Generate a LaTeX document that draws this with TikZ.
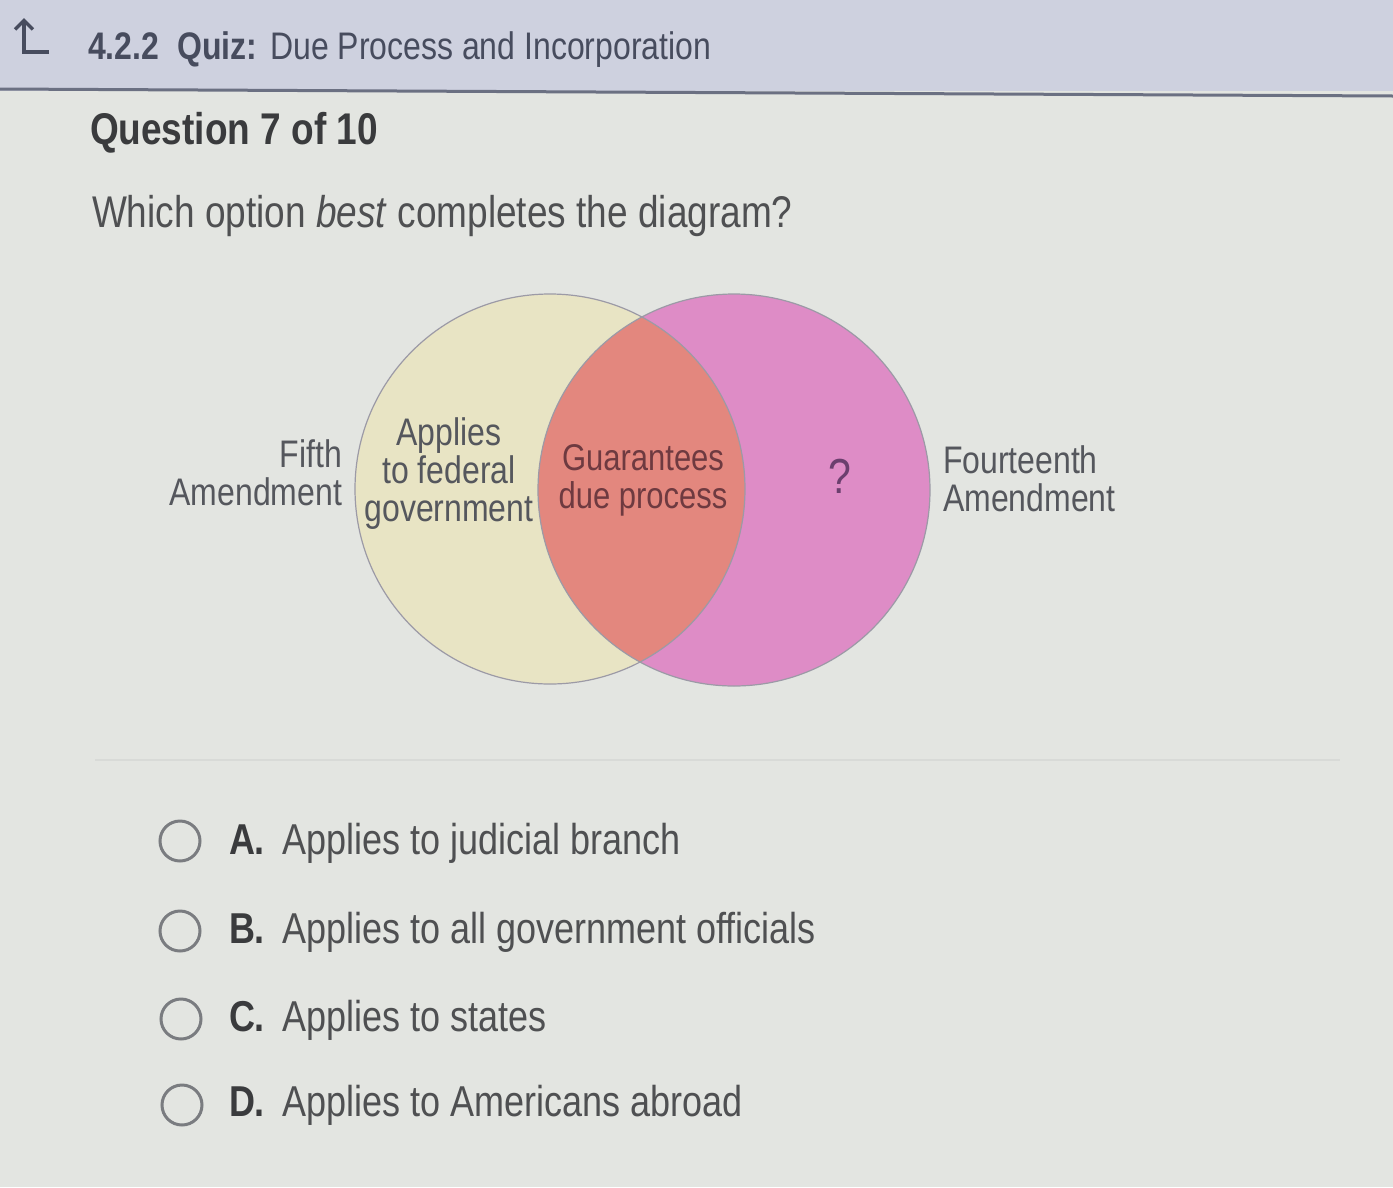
\documentclass[tikz,border=0pt]{standalone}
\usepackage{fontspec}
\setmainfont{Liberation Sans}
\usetikzlibrary{arrows.meta}
\definecolor{bgmain}{HTML}{E3E5E1}
\definecolor{bghead}{HTML}{CED1DF}
\definecolor{headline}{HTML}{6B7082}
\definecolor{headtxt}{HTML}{474C5E}
\definecolor{qtxt}{HTML}{3A3B3D}
\definecolor{bodytxt}{HTML}{4F5052}
\definecolor{lbltxt}{HTML}{55575D}
\definecolor{lfill}{HTML}{E8E4C4}
\definecolor{rfill}{HTML}{DE8CC6}
\definecolor{mfill}{HTML}{E3877E}
\definecolor{cline}{HTML}{9C9AA6}
\definecolor{midtxt}{HTML}{6E3A40}
\definecolor{qmark}{HTML}{6B3F6E}
\definecolor{radio}{HTML}{7A7C80}
\definecolor{sepline}{HTML}{D8DAD7}
\begin{document}
\begin{tikzpicture}[x=1pt,y=-1pt,
  txt/.style={inner sep=0pt, outer sep=0pt, yscale=1.2, transform shape},
  vlabel/.style={txt, text=lbltxt, font=\fontsize{32}{38}\selectfont},
  opt/.style={txt, text=bodytxt, font=\fontsize{36}{42}\selectfont, anchor=base west},
  optletter/.style={txt, text=qtxt, font=\fontsize{36}{42}\selectfont\bfseries, anchor=base west},
  radiobtn/.style={circle, draw=radio, line width=3pt, minimum size=40pt, inner sep=0pt}]
\useasboundingbox (0,0) rectangle (1393,1187);
% backgrounds
\fill[bgmain] (0,0) rectangle (1393,1187);
\fill[bghead] (0,0) rectangle (1393,91);
\draw[headline, line width=3pt] (0,89) -- (1393,96);
\draw[sepline, line width=1.5pt] (95,760) -- (1340,760);
% header
\coordinate (arrE) at (49,52);
\coordinate (arrC) at (24,52);
\coordinate (arrT) at (24,18);
\draw[headtxt, line width=3.5pt, -{Straight Barb[length=9pt,width=18pt,line width=3.5pt]}] (arrE) -- (arrC) -- (arrT);
\node[txt, anchor=base west, text=headtxt, font=\fontsize{32}{38}\selectfont] (head) at (88,59)
  {{\bfseries 4.2.2\hspace{18pt}Quiz:}\hspace{13pt}Due Process and Incorporation};
\node[txt, anchor=base west, text=qtxt, font=\fontsize{37}{44}\selectfont\bfseries] (qnum) at (90,144) {Question 7 of 10};
\node[txt, anchor=base west, text=bodytxt, font=\fontsize{37}{44}\selectfont] (qtext) at (92,227)
  {Which option \textit{best} completes the diagram?};
% Venn
\coordinate (lc) at (550,489);
\coordinate (rc) at (734,490);
\fill[lfill] (lc) circle (195);
\fill[rfill] (rc) circle (196);
\begin{scope}
  \clip (lc) circle (195);
  \fill[mfill] (rc) circle (196);
\end{scope}
\draw[cline, line width=1.2pt] (lc) circle (195);
\draw[cline, line width=1.2pt] (rc) circle (196);
% Venn labels
\node[vlabel, anchor=base east] (fifth1) at (342,467) {Fifth};
\node[vlabel, anchor=base east] (fifth2) at (342,505) {Amendment};
\node[vlabel, anchor=base] (ap1) at (449,445) {Applies};
\node[vlabel, anchor=base] (ap2) at (449,483) {to federal};
\node[vlabel, anchor=base] (ap3) at (449,521) {government};
\node[txt, anchor=base, text=midtxt, font=\fontsize{31}{37}\selectfont] (gu1) at (643,470) {Guarantees};
\node[txt, anchor=base, text=midtxt, font=\fontsize{31}{37}\selectfont] (gu2) at (643,508) {due process};
\node[txt, anchor=base, text=qmark, font=\fontsize{41}{48}\selectfont] (qm) at (840,493) {?};
\node[vlabel, anchor=base west] (four1) at (943,473) {Fourteenth};
\node[vlabel, anchor=base west] (four2) at (943,511) {Amendment};
% options
\node[radiobtn] (ra) at (180,841) {};
\node[radiobtn] (rb) at (180,931) {};
\node[radiobtn] (rcc) at (181,1019) {};
\node[radiobtn] (rd) at (182,1105) {};
\node[optletter] (la) at (229,854) {A.};
\node[opt] (ta) at (282,854) {Applies to judicial branch};
\node[optletter] (lb) at (229,943) {B.};
\node[opt] (tb) at (282,943) {Applies to all government officials};
\node[optletter] (lcc) at (229,1031) {C.};
\node[opt] (tc) at (282,1031) {Applies to states};
\node[optletter] (ld) at (229,1116) {D.};
\node[opt] (td) at (282,1116) {Applies to Americans abroad};
\end{tikzpicture}
\end{document}
